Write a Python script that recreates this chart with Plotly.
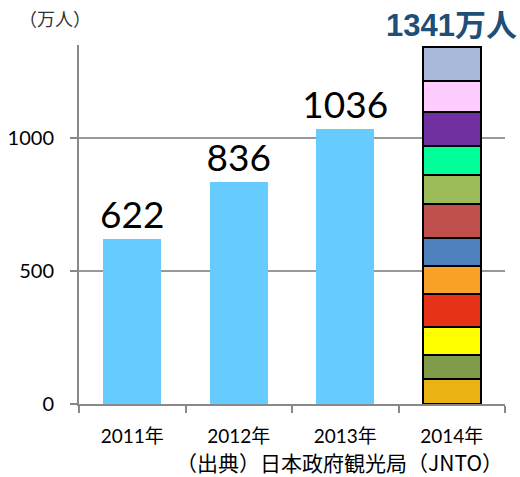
import plotly.graph_objects as go

years = ["2011年", "2012年", "2013年"]
year_values = [622, 836, 1036]

year_2014 = "2014年"
months_2014 = [94, 89, 106, 123, 106, 108, 127, 110, 109, 127, 117, 125]
month_colors = ["#EBB214", "#7F9A48", "#FFFF00", "#E63317", "#F9A229", "#4F81BD",
                "#C0504D", "#9BBB59", "#00FF99", "#7030A0", "#FFCCFF", "#A9B9D9"]
total_2014 = sum(months_2014)

unit_label = "（万人）"
source_label = "（出典）日本政府観光局（JNTO）"

num_font = "Lato, 'Noto Sans CJK JP', sans-serif"

fig = go.Figure()
fig.add_trace(go.Bar(
    x=years, y=year_values, marker=dict(color="#66CCFF", line=dict(width=0)),
    text=[str(v) for v in year_values], textposition="outside", constraintext="none",
    textfont=dict(size=37, color="black", family=num_font),
    cliponaxis=False, showlegend=False, hoverinfo="skip",
))
for v, c in zip(months_2014, month_colors):
    fig.add_trace(go.Bar(
        x=[year_2014], y=[v], marker=dict(color=c, line=dict(color="black", width=2)),
        showlegend=False, hoverinfo="skip",
    ))

fig.add_annotation(
    x=year_2014, y=total_2014, yanchor="bottom", yshift=2,
    text=f"<b>{total_2014}万人</b>", showarrow=False,
    font=dict(size=31, color="#1F4E79", family="'Liberation Sans', 'Noto Sans CJK JP', sans-serif"),
)
fig.add_annotation(
    xref="paper", yref="paper", x=-0.145, y=1.034, xanchor="left", yanchor="bottom",
    text=unit_label, showarrow=False,
    font=dict(size=18, color="#333333", family="'Noto Sans CJK JP', sans-serif"),
)
fig.add_annotation(
    xref="paper", yref="paper", x=1.0, y=-0.1616, xanchor="right", yanchor="middle",
    text=source_label, showarrow=False,
    font=dict(size=21, color="black", family="'Noto Sans CJK JP', sans-serif"),
)

fig.update_layout(
    width=520, height=477, autosize=False, barmode="stack", bargap=0.455,
    margin=dict(l=79, r=15, t=45, b=73, pad=0, autoexpand=False),
    plot_bgcolor="white", paper_bgcolor="white", hovermode=False,
    xaxis=dict(
        type="category", categoryorder="array", categoryarray=years + [year_2014],
        range=[-0.5, 3.5], automargin=False,
        showline=True, linecolor="#888888", linewidth=2,
        ticks="outside", tickson="boundaries", ticklen=7, tickcolor="#888888", tickwidth=2,
        ticklabelstandoff=14,
        tickfont=dict(size=19, color="black", family=num_font),
        showgrid=False,
    ),
    yaxis=dict(
        range=[0, 1350], tickvals=[0, 500, 1000], automargin=False,
        showline=True, linecolor="#888888", linewidth=2,
        ticks="outside", ticklen=7, tickcolor="#888888", tickwidth=2,
        ticklabelstandoff=12,
        tickfont=dict(size=20, color="black", family=num_font),
        showgrid=True, gridcolor="#999999", gridwidth=2, zeroline=False,
    ),
)

fig.write_html(
    "out.html",
    config={"displayModeBar": False, "responsive": False},
    post_script="document.body.style.margin='0';document.body.style.overflow='hidden';",
)
